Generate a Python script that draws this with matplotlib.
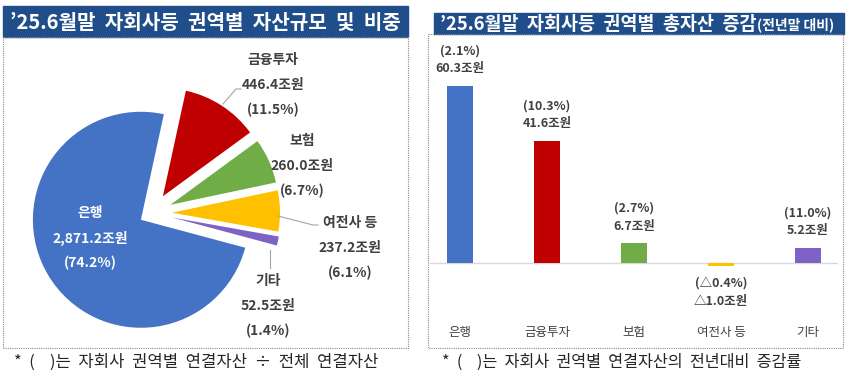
import matplotlib
matplotlib.use("Agg")
import matplotlib.pyplot as plt
from matplotlib.patches import Rectangle

plt.rcParams['font.family'] = ['Noto Sans CJK KR', 'DejaVu Sans']

SECTORS = ["은행", "금융투자", "보험", "여전사 등", "기타"]
ASSETS = [2871.2, 446.4, 260.0, 237.2, 52.5]        # 조원
SHARES = [74.2, 11.5, 6.7, 6.1, 1.4]                # %
CHANGES = [60.3, 41.6, 6.7, -1.0, 5.2]              # 조원, 전년말 대비
CHANGE_RATES = [2.1, 10.3, 2.7, -0.4, 11.0]         # %
COLORS = ["#4472C4", "#C00000", "#70AD47", "#FFC000", "#7F62C6"]

TITLE_L = "’25.6월말 자회사등 권역별 자산규모 및 비중"
TITLE_R = "’25.6월말 자회사등 권역별 총자산 증감"
TITLE_R_SUB = "(전년말 대비)"
NOTE_L = "* (  )는 자회사 권역별 연결자산 ÷ 전체 연결자산"
NOTE_R = "* (  )는 자회사 권역별 연결자산의 전년대비 증감률"

W, H = 850, 377
BANNER = "#1F4E8A"
TXT = "#404040"

def wide(s):
    # the original font has much wider word spaces
    return s.replace(" ", "  ")

fig = plt.figure(figsize=(8.5, 3.77), dpi=100)

# background layer in pixel coords
bg = fig.add_axes([0, 0, 1, 1])
bg.set_xlim(0, W)
bg.set_ylim(H, 0)
bg.axis("off")

bg.add_patch(Rectangle((3, 6), 405, 31, color=BANNER))
bg.add_patch(Rectangle((434, 13), 410, 21, color=BANNER))
bg.add_patch(Rectangle((3, 37), 405, 311, fill=False, ls=(0, (1, 1)), lw=0.8, ec="#8c8c8c"))
bg.add_patch(Rectangle((428, 34), 415, 314, fill=False, ls=(0, (1, 1)), lw=0.8, ec="#8c8c8c"))

bg.text(205, 22, wide(TITLE_L), color="white", fontsize=14.5, fontweight="bold", ha="center", va="center")
t = bg.text(440, 24, wide(TITLE_R), color="white", fontsize=13.3, fontweight="bold", ha="left", va="center")
fig.canvas.draw()
ext = t.get_window_extent()
bg.text(ext.x1 / fig.dpi * 100 + 1, 25, TITLE_R_SUB, color="white", fontsize=10, fontweight="bold",
        ha="left", va="center")

bg.text(14, 362, wide(NOTE_L), fontsize=12, color="#262626", ha="left", va="center")
bg.text(442, 362, wide(NOTE_R), fontsize=11.7, color="#262626", ha="left", va="center")

# pie
cx, cy, half = 152, 213, 140
ax_pie = fig.add_axes([(cx - half) / W, (H - cy - half) / H, 2 * half / W, 2 * half / H])
ax_pie.pie(ASSETS, colors=COLORS, radius=108, explode=[13, 20, 20, 20, 21],
           startangle=-15, counterclock=False, wedgeprops=dict(linewidth=0))
ax_pie.set_xlim(-half, half)
ax_pie.set_ylim(-half, half)
ax_pie.axis("off")

# bars
ax_bar = fig.add_axes([430 / W, (H - 345) / H, 408 / W, 305 / H])
ax_bar.set_facecolor("none")
x = range(len(SECTORS))
ax_bar.bar(x, CHANGES, width=0.31, color=COLORS, zorder=2)
ax_bar.axhline(0, color="#d9d9d9", lw=1, zorder=1)
ax_bar.set_xlim(-0.345, 4.345)
ax_bar.set_ylim(-27.9, 75.8)
ax_bar.axis("off")

def fmt(v, unit):
    return f"△{abs(v):.1f}{unit}" if v < 0 else f"{v:.1f}{unit}"

for i, (v, r) in enumerate(zip(CHANGES, CHANGE_RATES)):
    if v >= 0:
        off_v, off_r = 17, 35
    else:
        off_v, off_r = -36, -17
    ax_bar.annotate(fmt(v, "조원"), xy=(i, v), xytext=(0, off_v), textcoords="offset pixels",
                    ha="center", va="center", fontsize=9, fontweight="bold", color=TXT)
    ax_bar.annotate("(" + fmt(r, "%") + ")", xy=(i, v), xytext=(0, off_r),
                    textcoords="offset pixels", ha="center", va="center", fontsize=9,
                    fontweight="bold", color=TXT)
    ax_bar.text(i, -23.5, SECTORS[i], ha="center", va="center", fontsize=9, color=TXT)

# overlay for pie labels, above the pie
top = fig.add_axes([0, 0, 1, 1])
top.set_xlim(0, W)
top.set_ylim(H, 0)
top.axis("off")

def pie_label(x, y, i, color=TXT):
    lines = [SECTORS[i], f"{ASSETS[i]:,.1f}조원", f"({SHARES[i]}%)"]
    for k, s in enumerate(lines):
        top.text(x, y + k * 25, s, color=color, fontsize=10, fontweight="bold", ha="center", va="center")

pie_label(90, 213, 0, color="white")
pie_label(273, 60, 1)
pie_label(302, 141, 2)
pie_label(350, 223, 3)
pie_label(268, 281, 4)

lc = "#a6a6a6"
top.plot([223, 236, 241], [104, 89, 89], color=lc, lw=0.8)
top.plot([278, 313, 318], [216, 225, 225], color=lc, lw=0.8)
top.plot([270, 270], [250, 268], color=lc, lw=0.8)

fig.savefig("out.png", dpi=100)
